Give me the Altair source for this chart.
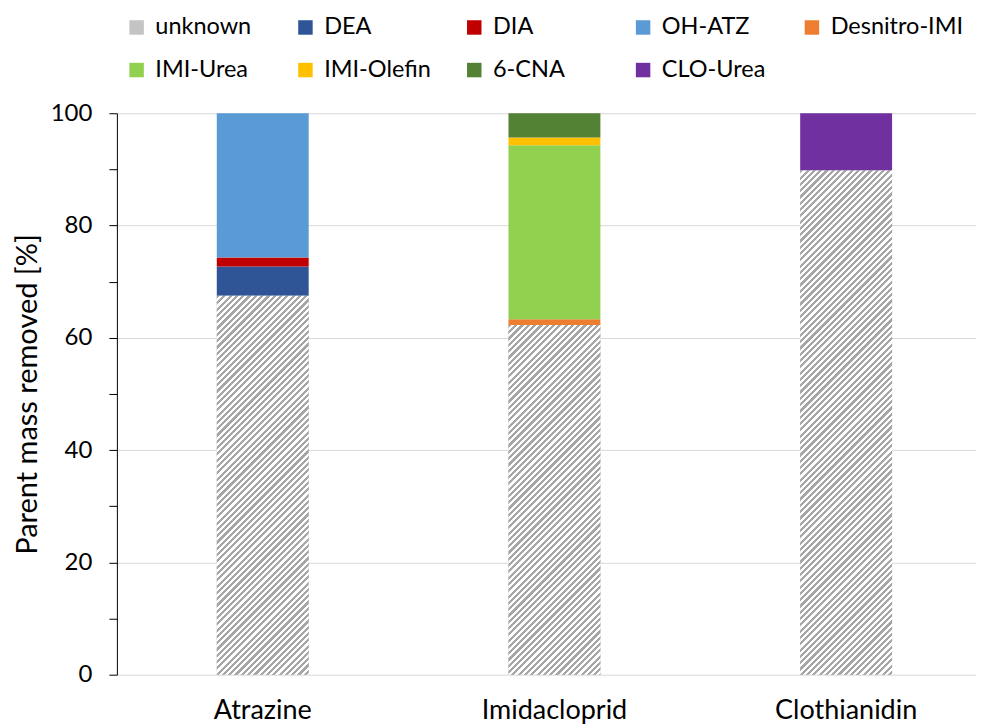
import altair as alt
import pandas as pd

# ---- data ----
compounds = ["Atrazine", "Imidacloprid", "Clothianidin"]
components = ["unknown", "DEA", "DIA", "OH-ATZ", "Desnitro-IMI",
              "IMI-Urea", "IMI-Olefin", "6-CNA", "CLO-Urea"]
colors = ["#c4c4c4", "#2f5597", "#c00000", "#5b9bd5", "#ed7d31",
          "#92d050", "#ffc000", "#548235", "#7030a0"]

unknown = [67.5, 62.3, 89.8]
dea = [5.2, 0.0, 0.0]
dia = [1.6, 0.0, 0.0]
oh_atz = [25.7, 0.0, 0.0]
desnitro_imi = [0.0, 1.0, 0.0]
imi_urea = [0.0, 31.0, 0.0]
imi_olefin = [0.0, 1.4, 0.0]
cna6 = [0.0, 4.3, 0.0]
clo_urea = [0.0, 0.0, 10.2]

series = [unknown, dea, dia, oh_atz, desnitro_imi, imi_urea, imi_olefin, cna6, clo_urea]

rows = []
for idx, (comp, vals) in enumerate(zip(components, series)):
    for cpd, v in zip(compounds, vals):
        if v > 0:
            rows.append({"compound": cpd, "component": comp, "value": v, "order": idx})
df = pd.DataFrame(rows)

# ---- layout ----
W, H = 860, 562
STEP = 292
BAR = 92
FONT = "Lato"


def hatch_fill(w, h, period=6.3, ink="#a6a6a6", paper="#ffffff"):
    """Diagonal '/' stripes as a linear gradient in bounding-box units."""
    n = (w + h) / period
    k = (w + h) / (w * w + h * h)
    step = 1.0 / n
    stops = []
    i = 0
    while i * step < 1:
        a = i * step
        b = min(a + step * 0.5, 1.0)
        c = min(a + step, 1.0)
        stops += [
            {"offset": round(a, 5), "color": ink},
            {"offset": round(b, 5), "color": ink},
            {"offset": round(b, 5), "color": paper},
            {"offset": round(c, 5), "color": paper},
        ]
        i += 1
    return {"gradient": "linear", "x1": 0, "y1": 0,
            "x2": round(w * k, 5), "y2": round(h * k, 5), "stops": stops}


xscale = alt.Scale(domain=compounds, range=[0, 3 * STEP], paddingInner=0, paddingOuter=0)
xaxis = alt.Axis(domain=False, ticks=False, tickSize=0, labelAngle=0, labelFontSize=27,
                 labelPadding=23, labelColor="black", labelFont=FONT, grid=False)
yscale = alt.Scale(domain=[0, 100], nice=False)
yaxis = alt.Axis(
    values=list(range(0, 101, 10)),
    labelExpr="datum.value % 20 === 0 ? datum.label : ''",
    grid=True, gridColor="#d9d9d9", gridWidth=1,
    gridOpacity={"condition": {"test": "datum.value % 20 === 0", "value": 1}, "value": 0},
    domainColor="black", domainWidth=1,
    tickColor="black", tickSize=8, tickWidth=1,
    labelFontSize=24, labelPadding=17, labelColor="black", labelFont=FONT,
    titleFontSize=29, titlePadding=8, titleFontWeight="normal",
    titleColor="black", titleFont=FONT,
)

legend = alt.Legend(
    title=None, orient="none", legendX=8, legendY=-98,
    direction="horizontal", columns=5, gridAlign="all",
    symbolType="square", symbolSize=210, symbolStrokeWidth=0,
    labelFontSize=23.5, labelFont=FONT, labelColor="black",
    labelOffset=7, columnPadding=5, rowPadding=18, padding=0, labelLimit=400,
)

bars = alt.Chart(df).mark_bar(width=BAR).encode(
    x=alt.X("compound:N", sort=compounds, scale=xscale, axis=xaxis, title=None),
    y=alt.Y("value:Q", stack="zero", scale=yscale, axis=yaxis, title="Parent mass removed [%]"),
    color=alt.Color("component:N", scale=alt.Scale(domain=components, range=colors), legend=legend),
    order=alt.Order("order:Q", sort="ascending"),
)

hatch_layers = []
for cpd, u in zip(compounds, unknown):
    h = u / 100.0 * H
    hatch_layers.append(
        alt.Chart(df)
        .transform_filter(f"datum.component === 'unknown' && datum.compound === '{cpd}'")
        .mark_bar(width=BAR, fill=hatch_fill(BAR, h), strokeWidth=0)
        .encode(
            x=alt.X("compound:N", sort=compounds, scale=xscale, axis=xaxis, title=None),
            y=alt.Y("value:Q", scale=yscale, axis=yaxis, title="Parent mass removed [%]"),
        )
    )

chart = (
    alt.layer(bars, *hatch_layers)
    .properties(
        width=W, height=H,
        autosize=alt.AutoSizeParams(type="none"),
        padding={"left": 109, "top": 105, "right": 0, "bottom": 52},
    )
    .configure_view(stroke=None)
)

chart.save("out.html", embed_options={"renderer": "svg", "actions": False})
